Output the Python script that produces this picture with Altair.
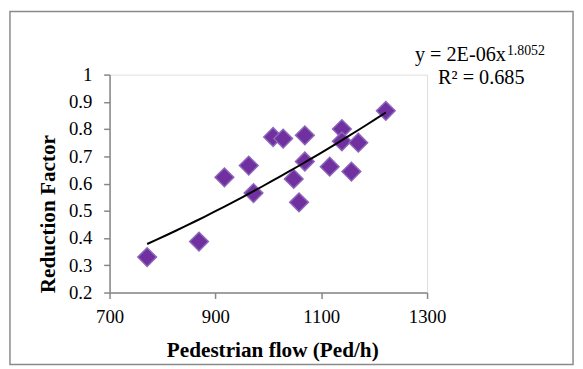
import altair as alt
import pandas as pd

# Data
flow = [771, 869, 917, 963, 972, 1009, 1028, 1069, 1069, 1048, 1058, 1116, 1139, 1139, 1157, 1170, 1222]
rf = [0.330, 0.387, 0.623, 0.666, 0.565, 0.771, 0.765, 0.777, 0.681, 0.617, 0.531, 0.662, 0.800, 0.755, 0.644, 0.750, 0.867]

x_ticks = [700, 900, 1100, 1300]
y_ticks = [0.2, 0.3, 0.4, 0.5, 0.6, 0.7, 0.8, 0.9, 1.0]

eq_main = "y = 2E-06x"
eq_sup = "1.8052"
eq_r2 = "R² = 0.685"
x_title = "Pedestrian flow (Ped/h)"
y_title = "Reduction Factor"

df = pd.DataFrame({"flow": flow, "rf": rf})

FONT = "Liberation Serif"
AX = "#868686"

common = dict(grid=False, domainColor=AX, tickColor=AX, tickSize=6, domainWidth=1.5,
              tickWidth=1.5, labelFont=FONT, labelFontSize=19, labelColor="black",
              labelOverlap=False, labelFlush=False,
              titleFont=FONT, titleFontSize=21.5, titleFontWeight="bold", titleColor="black")

xs = alt.X("flow:Q", scale=alt.Scale(domain=[700, 1300], nice=False, zero=False),
           axis=alt.Axis(values=x_ticks, title=x_title, format="d", labelPadding=9,
                         titleX=165, titleY=59, titleAlign="center", titleBaseline="middle",
                         **common))
ys = alt.Y("rf:Q", scale=alt.Scale(domain=[0.2, 1.0], nice=False, zero=False),
           axis=alt.Axis(values=y_ticks, title=y_title, labelPadding=12,
                         labelExpr="datum.value == 1 ? '1' : format(datum.value, '.1f')",
                         titleX=-62, titleY=141, titleAngle=-90, titleAlign="center",
                         titleBaseline="middle", **common))

points = alt.Chart(df).mark_point(
    shape="diamond", filled=True, size=360, fill="#7030A0", stroke="#8D66BA",
    strokeWidth=1.5, opacity=1
).encode(x=xs, y=ys)

trend = alt.Chart(df).transform_regression(
    "flow", "rf", method="pow"
).mark_line(color="black", strokeWidth=2).encode(x=xs, y=ys)

one = alt.Data(values=[{"a": 1}])

border = alt.Chart(one).mark_rect(fill=None, stroke="#8a8a8a", strokeWidth=1.5).encode(
    x=alt.value(-101), x2=alt.value(470), y=alt.value(-64), y2=alt.value(294)
)

t_main = alt.Chart(one).mark_text(font=FONT, fontSize=20.5, align="right", baseline="alphabetic",
                                  color="black").encode(
    x=alt.value(402), y=alt.value(-14), text=alt.value(eq_main))
t_sup = alt.Chart(one).mark_text(font=FONT, fontSize=14, align="left", baseline="alphabetic",
                                 color="black").encode(
    x=alt.value(403), y=alt.value(-20), text=alt.value(eq_sup))
t_r2 = alt.Chart(one).mark_text(font=FONT, fontSize=20.5, align="center", baseline="alphabetic",
                                color="black").encode(
    x=alt.value(377), y=alt.value(10), text=alt.value(eq_r2))

chart = alt.layer(points, trend, border, t_main, t_sup, t_r2).properties(
    width=322, height=221,
    autosize=alt.AutoSizeParams(type="none"),
    padding={"left": 103, "top": 65, "right": 150, "bottom": 75},
).configure_view(stroke=None).configure_axis(
    labelFont=FONT, labelFontSize=19, labelColor="black"
).configure(
    font=FONT,
    style={"guide-label": {"font": FONT, "fontSize": 19, "fill": "black"},
           "guide-title": {"font": FONT, "fontSize": 21.5}}
)

chart.save("out.html", embed_options={"renderer": "svg", "actions": False})
